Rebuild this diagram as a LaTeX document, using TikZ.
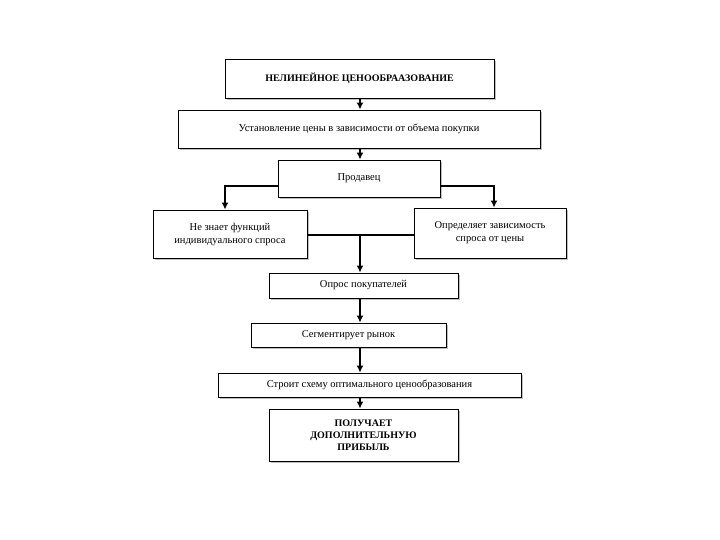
\documentclass[tikz,border=0pt]{standalone}
\usepackage{fontspec}
\setmainfont{Liberation Serif}
\usetikzlibrary{shadows,arrows.meta}
\begin{document}
\begin{tikzpicture}[x=1pt,y=-1pt,
bx/.style 2 args={draw,line width=0.9pt,fill=white,minimum width=#1,minimum height=#2,inner sep=1pt,align=center,
 font=\fontsize{10.5}{13}\selectfont,
 general shadow={fill=gray!50,shadow xshift=2pt,shadow yshift=-2pt}},
ar/.style={-{Latex[length=7pt,width=7pt]},line width=1.4pt},
ln/.style={line width=1.1pt}]
\useasboundingbox (0,0) rectangle (720,540);
\node[bx={269pt}{39pt},font=\bfseries\fontsize{10}{12}\selectfont] (a) at (359.5,78.5) {НЕЛИНЕЙНОЕ ЦЕНООБРААЗОВАНИЕ};
\node[bx={362pt}{38pt}] (b) at (359,129) {Установление цены в зависимости от объема покупки};
\node[bx={162pt}{37pt}] (c) at (359,178.5) {Продавец};
\node[bx={154pt}{48pt}] (l) at (230,234) {Не знает функций\\индивидуального спроса};
\node[bx={152pt}{50pt}] (r) at (490,233) {Определяет зависимость\\спроса от цены};
\node[bx={189pt}{25pt}] (d) at (363.5,285.5) {Опрос покупателей};
\node[bx={195pt}{24pt}] (e) at (348.5,335) {Сегментирует рынок};
\node[bx={303pt}{24pt}] (f) at (369.5,385) {Строит схему оптимального ценообразования};
\node[bx={189pt}{52pt},font=\bfseries\fontsize{10}{12}\selectfont] (g) at (363.5,435) {ПОЛУЧАЕТ\\ДОПОЛНИТЕЛЬНУЮ\\ПРИБЫЛЬ};
\draw[ar] (a.south -| 360,0) -- (b.north -| 360,0);
\draw[ar] (b.south -| 360,0) -- (c.north -| 360,0);
\draw[ar] (c.west |- 0,186) -| (l.north -| 225,0);
\draw[ar] (c.east |- 0,186) -| (r.north -| 494,0);
\draw[ln] (l.east |- 0,235) -- (r.west |- 0,235);
\coordinate (m) at (360,235);
\draw[ar] (m) -- (d.north -| m);
\draw[ar] (d.south -| m) -- (e.north -| m);
\draw[ar] (e.south -| m) -- (f.north -| m);
\draw[ar] (f.south -| m) -- (g.north -| m);
\end{tikzpicture}
\end{document}
